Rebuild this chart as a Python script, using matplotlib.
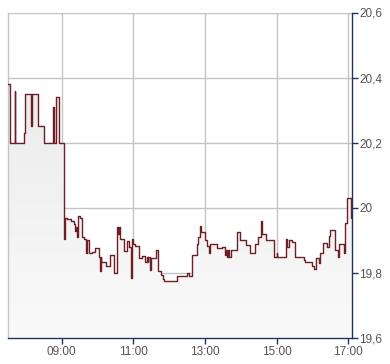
import numpy as np
import matplotlib
matplotlib.use("Agg")
import matplotlib.pyplot as plt
from matplotlib.ticker import FixedLocator, FuncFormatter

times = ["07:30","07:33","07:41","07:42","07:56","07:59","08:08","08:11","08:20","08:30",
         "08:45","08:47","08:50","08:55","09:03","09:06","09:09","09:15","09:20","09:22",
         "09:24","09:25","09:28","09:31","09:34","09:37","09:41","09:43","09:45","09:51",
         "09:55","10:02","10:04","10:05","10:06","10:14","10:20","10:28","10:33","10:35",
         "10:36","10:38","10:45","10:49","10:52","10:56","10:58","11:00","11:03","11:10",
         "11:14","11:20","11:23","11:24","11:25","11:27","11:29","11:38","11:41","11:47",
         "11:49","11:52","12:13","12:22","12:30","12:33","12:38","12:46","12:49","12:51",
         "12:53","13:00","13:04","13:07","13:08","13:20","13:28","13:34","13:35","13:36",
         "13:38","13:40","13:43","13:53","13:59","14:09","14:16","14:24","14:29","14:34",
         "14:35","14:42","14:56","15:00","15:01","15:15","15:18","15:21","15:25","15:31",
         "15:46","15:47","15:59","16:03","16:06","16:10","16:13","16:18","16:24","16:27",
         "16:30","16:37","16:43","16:45","16:52","16:54","16:55","16:58","17:05","17:06"]
prices = [20.38,20.20,20.36,20.20,20.23,20.35,20.25,20.35,20.25,20.20,
          20.31,20.20,20.34,20.20,19.905,19.97,19.965,19.96,19.95,19.93,
          19.94,19.91,19.975,19.97,19.91,19.905,19.86,19.90,19.86,19.865,
          19.877,19.85,19.805,19.85,19.835,19.822,19.856,19.80,19.94,19.92,
          19.94,19.905,19.866,19.897,19.88,19.785,19.905,19.889,19.882,19.846,
          19.852,19.835,19.85,19.835,19.85,19.81,19.846,19.87,19.805,19.795,
          19.78,19.775,19.792,19.79,19.80,19.79,19.856,19.89,19.91,19.945,
          19.925,19.902,19.882,19.86,19.889,19.877,19.88,19.855,19.87,19.85,
          19.87,19.85,19.87,19.926,19.902,19.886,19.86,19.89,19.91,19.958,
          19.918,19.90,19.85,19.86,19.85,19.905,19.88,19.90,19.895,19.85,
          19.84,19.833,19.82,19.812,19.847,19.83,19.86,19.893,19.88,19.914,
          19.933,19.87,19.85,19.888,19.86,19.888,19.952,20.03,19.97,19.97]

x_ticks = ["09:00","11:00","13:00","15:00","17:00"]
y_ticks = [19.6, 19.8, 20.0, 20.2, 20.4, 20.6]

def to_hours(s):
    h, m = s.split(":")
    return int(h) + int(m) / 60.0

t = np.array([to_hours(s) for s in times])
p = np.array(prices)

fig = plt.figure(figsize=(3.9, 3.64), dpi=100)
ax = fig.add_axes([8/390, 1-338/364, (352.3-8)/390, (338-12.5)/364])

xmin, xmax = 7.5, 17.11
ymin, ymax = 19.6, 20.6
ax.set_xlim(xmin, xmax)
ax.set_ylim(ymin, ymax)

# gradient fill under the step line
poly = ax.fill_between(t, p, ymin, step="post", facecolor="none", edgecolor="none")
grad = np.linspace(0, 1, 256).reshape(-1, 1)
from matplotlib.colors import LinearSegmentedColormap
cmap = LinearSegmentedColormap.from_list("g", ["#fafafa", "#ebebeb"])
top = p.max()
im = ax.imshow(grad, extent=[xmin, xmax, ymin, top], origin="lower", aspect="auto",
               cmap=cmap, zorder=1)
path = poly.get_paths()[0]
im.set_clip_path(path, transform=ax.transData)

ax.step(t, p, where="post", color="#6e1f26", lw=1.0, zorder=3)

# grid
for v in y_ticks:
    ax.axhline(v, color="#c4c4c4", lw=1.0, zorder=0.5)
for s in x_ticks:
    ax.axvline(to_hours(s), color="#c4c4c4", lw=1.0, zorder=0.5)

for side in ["top"]:
    ax.spines[side].set_visible(False)
ax.spines["left"].set_color("#c4c4c4")
ax.spines["left"].set_linewidth(1.0)
for side in ["bottom", "right"]:
    ax.spines[side].set_color("#1f3560")
    ax.spines[side].set_linewidth(1.0)

ax.yaxis.tick_right()
ax.yaxis.set_major_locator(FixedLocator(y_ticks))
def yfmt(v, pos):
    s = ("%.1f" % v)
    if s.endswith(".0"):
        s = s[:-2]
    return s.replace(".", ",")
ax.yaxis.set_major_formatter(FuncFormatter(yfmt))
ax.set_xticks([to_hours(s) for s in x_ticks])
ax.set_xticklabels(x_ticks)

ax.tick_params(axis="both", direction="out", length=4, width=1, color="#1f3560",
               labelcolor="#555555", labelsize=8.5, pad=2)
ax.tick_params(axis="y", pad=1)
for lab in ax.get_xticklabels() + ax.get_yticklabels():
    lab.set_family(["Liberation Sans", "DejaVu Sans"])

fig.savefig("out.png", dpi=100)
